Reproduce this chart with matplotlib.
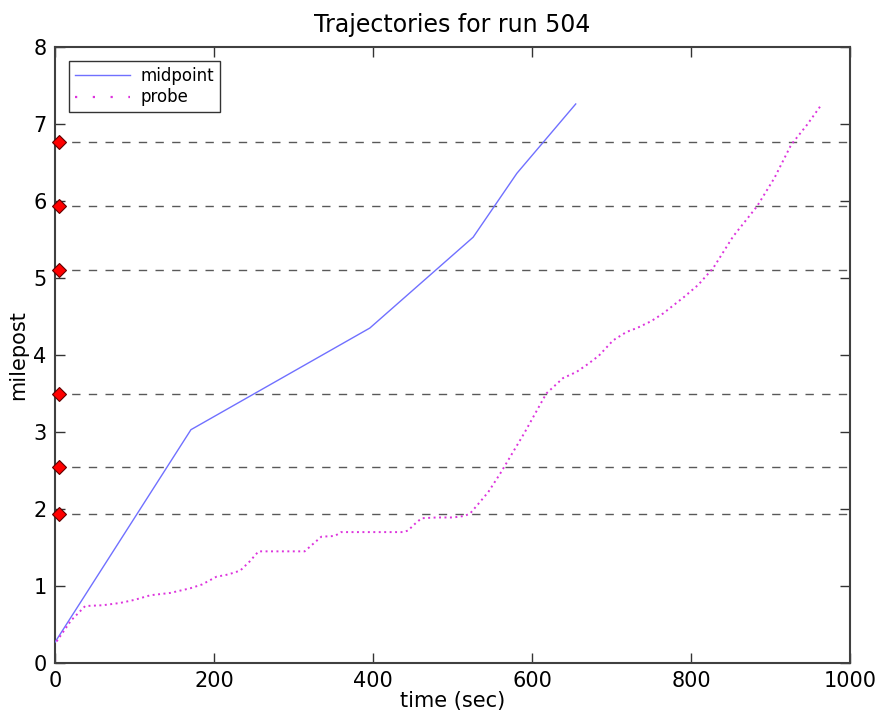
import matplotlib
matplotlib.use("Agg")
import matplotlib.pyplot as plt
from matplotlib.lines import Line2D

# Data
mid_t = [0, 171, 396, 526, 581, 655]
mid_m = [0.27, 3.03, 4.35, 5.53, 6.36, 7.26]

probe_t = [2, 20, 38, 60, 82, 100, 120, 145, 170, 185, 203, 218, 233, 245, 256, 285, 314, 325, 335, 352,
           360, 400, 438, 444, 452, 461, 480, 501, 515, 522, 532, 545, 560, 590, 618, 639, 656, 670,
           684, 702, 719, 732, 750, 765, 792, 809, 828, 853, 883, 905, 925, 929, 946, 964]
probe_m = [0.28, 0.55, 0.74, 0.75, 0.78, 0.82, 0.88, 0.91, 0.97, 1.02, 1.12, 1.15, 1.20, 1.32, 1.45, 1.45,
           1.45, 1.55, 1.64, 1.65, 1.70, 1.70, 1.70, 1.72, 1.80, 1.88, 1.89, 1.89, 1.91, 1.94, 2.06, 2.22,
           2.46, 2.98, 3.50, 3.70, 3.78, 3.88, 3.99, 4.19, 4.30, 4.35, 4.44, 4.54, 4.76, 4.91, 5.13, 5.54,
           5.93, 6.30, 6.71, 6.77, 6.99, 7.25]

station_m = [1.935, 2.55, 3.49, 5.10, 5.94, 6.77]
station_t = [5, 5, 5, 5, 5, 5]

plt.rcParams['font.family'] = ['DejaVu Sans']
fig = plt.figure(figsize=(8.84, 7.17), dpi=100)
fig.patch.set_facecolor('white')
ax = fig.add_axes([55/884, 54/717, 795/884, 616/717])

for m in station_m:
    ax.axhline(m, color='0.35', linestyle=(0, (6, 6)), linewidth=1.0, zorder=1)

mid_color = '#7070ff'
probe_color = '#dd33dd'
ax.plot(mid_t, mid_m, color=mid_color, linewidth=1.0, zorder=3)
ax.plot(probe_t, probe_m, color=probe_color, linestyle=(0, (1, 1.8)), linewidth=1.4, zorder=3)
ax.plot(station_t, station_m, 'D', color='red', markeredgecolor='#600000', markersize=7,
        markeredgewidth=0.8, zorder=4, clip_on=False)

ax.set_xlim(0, 1000)
ax.set_ylim(0, 8)
ax.set_xticks([0, 200, 400, 600, 800, 1000])
ax.set_yticks(range(0, 9))
ax.tick_params(direction='in', length=7, width=1.0, top=True, right=True, labelsize=15, pad=6,
               color='0.2')
for s in ax.spines.values():
    s.set_linewidth(1.5)
    s.set_color('0.25')

ax.set_title('Trajectories for run 504', fontsize=17, pad=11)
ax.set_xlabel('time (sec)', fontsize=15, labelpad=0)
ax.set_ylabel('milepost', fontsize=15, labelpad=4)

handles = [Line2D([], [], color=mid_color, linewidth=1.0),
           Line2D([], [], color=probe_color, linestyle=(0, (1, 7)), linewidth=1.6)]
leg = ax.legend(handles, ['midpoint', 'probe'], loc='upper left', fontsize=12, frameon=True,
                fancybox=False, borderaxespad=0.85, handlelength=3.3, handletextpad=0.65,
                borderpad=0.35, labelspacing=0.2)
leg.get_frame().set_edgecolor('black')
leg.get_frame().set_linewidth(1.0)

fig.savefig('out.png', dpi=100, facecolor='white')
